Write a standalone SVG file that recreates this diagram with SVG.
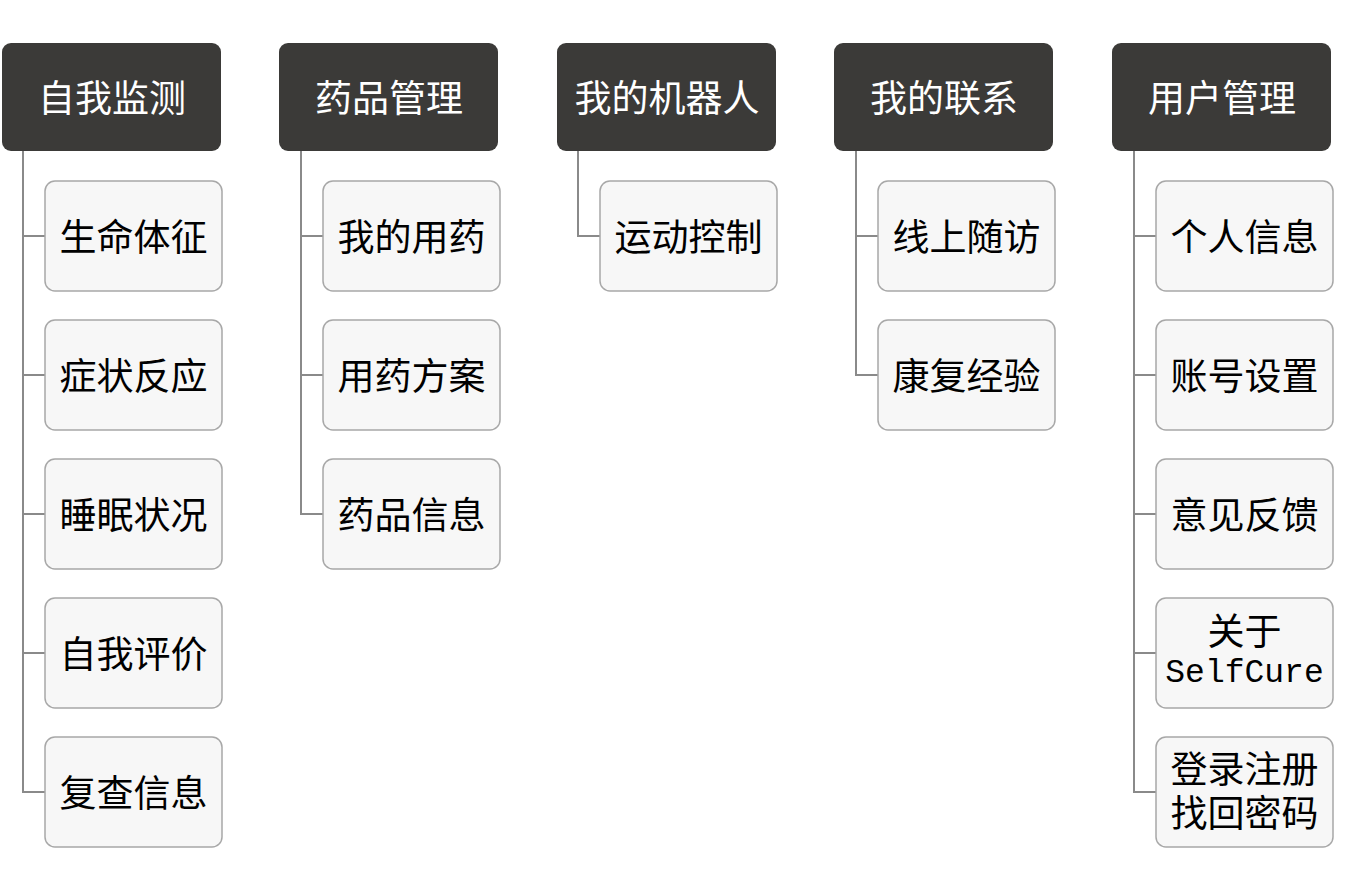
<svg xmlns="http://www.w3.org/2000/svg" width="1350" height="889" viewBox="0 0 1350 889">
<defs>
<style>
.hd{fill:#3b3a38;}
.hdt{fill:#ffffff;font-family:"Noto Sans CJK SC","Noto Sans",sans-serif;font-size:37px;text-anchor:middle;dominant-baseline:central;}
.ch{fill:#f7f7f7;stroke:#a8a8a8;stroke-width:1.5;}
.cht{fill:#000000;font-family:"Noto Sans CJK SC","Noto Sans",sans-serif;font-size:37px;text-anchor:middle;dominant-baseline:central;}
.mono{font-family:"Liberation Mono","Noto Sans CJK SC",monospace;font-size:33px;}
.cn{fill:none;stroke:#8a8a8a;stroke-width:2;}
</style>
</defs>
<rect width="1350" height="889" fill="#ffffff"/>
<g id="connectors">
<path class="cn" d="M23,151 V792 H45 M23,236 H45 M23,375 H45 M23,514 H45 M23,653 H45"/>
<path class="cn" d="M301,151 V514 H323 M301,236 H323 M301,375 H323"/>
<path class="cn" d="M578,151 V236 H600"/>
<path class="cn" d="M856,151 V375 H878 M856,236 H878"/>
<path class="cn" d="M1134,151 V792 H1156 M1134,236 H1156 M1134,375 H1156 M1134,514 H1156 M1134,653 H1156"/>
</g>
<g id="h1"><rect class="hd" x="2" y="43" width="219" height="108" rx="9"/><text class="hdt" x="112" y="96">自我监测</text></g>
<g id="h2"><rect class="hd" x="279" y="43" width="219" height="108" rx="9"/><text class="hdt" x="389" y="96">药品管理</text></g>
<g id="h3"><rect class="hd" x="557" y="43" width="219" height="108" rx="9"/><text class="hdt" x="667" y="96">我的机器人</text></g>
<g id="h4"><rect class="hd" x="834" y="43" width="219" height="108" rx="9"/><text class="hdt" x="944" y="96">我的联系</text></g>
<g id="h5"><rect class="hd" x="1112" y="43" width="219" height="108" rx="9"/><text class="hdt" x="1222" y="96">用户管理</text></g>

<g id="c1a"><rect class="ch" x="45" y="181" width="177" height="110" rx="10"/><text class="cht" x="133.5" y="235">生命体征</text></g>
<g id="c1b"><rect class="ch" x="45" y="320" width="177" height="110" rx="10"/><text class="cht" x="133.5" y="374">症状反应</text></g>
<g id="c1c"><rect class="ch" x="45" y="459" width="177" height="110" rx="10"/><text class="cht" x="133.5" y="513">睡眠状况</text></g>
<g id="c1d"><rect class="ch" x="45" y="598" width="177" height="110" rx="10"/><text class="cht" x="133.5" y="652">自我评价</text></g>
<g id="c1e"><rect class="ch" x="45" y="737" width="177" height="110" rx="10"/><text class="cht" x="133.5" y="791">复查信息</text></g>

<g id="c2a"><rect class="ch" x="323" y="181" width="177" height="110" rx="10"/><text class="cht" x="411.5" y="235">我的用药</text></g>
<g id="c2b"><rect class="ch" x="323" y="320" width="177" height="110" rx="10"/><text class="cht" x="411.5" y="374">用药方案</text></g>
<g id="c2c"><rect class="ch" x="323" y="459" width="177" height="110" rx="10"/><text class="cht" x="411.5" y="513">药品信息</text></g>

<g id="c3a"><rect class="ch" x="600" y="181" width="177" height="110" rx="10"/><text class="cht" x="688.5" y="235">运动控制</text></g>

<g id="c4a"><rect class="ch" x="878" y="181" width="177" height="110" rx="10"/><text class="cht" x="966.5" y="235">线上随访</text></g>
<g id="c4b"><rect class="ch" x="878" y="320" width="177" height="110" rx="10"/><text class="cht" x="966.5" y="374">康复经验</text></g>

<g id="c5a"><rect class="ch" x="1156" y="181" width="177" height="110" rx="10"/><text class="cht" x="1244.5" y="235">个人信息</text></g>
<g id="c5b"><rect class="ch" x="1156" y="320" width="177" height="110" rx="10"/><text class="cht" x="1244.5" y="374">账号设置</text></g>
<g id="c5c"><rect class="ch" x="1156" y="459" width="177" height="110" rx="10"/><text class="cht" x="1244.5" y="513">意见反馈</text></g>
<g id="c5d"><rect class="ch" x="1156" y="598" width="177" height="110" rx="10"/><text class="cht" x="1244.5" y="629"><tspan x="1244.5">关于</tspan><tspan class="mono" x="1244.5" dy="44">SelfCure</tspan></text></g>
<g id="c5e"><rect class="ch" x="1156" y="737" width="177" height="110" rx="10"/><text class="cht" x="1244.5" y="767"><tspan x="1244.5">登录注册</tspan><tspan x="1244.5" dy="44">找回密码</tspan></text></g>
</svg>
